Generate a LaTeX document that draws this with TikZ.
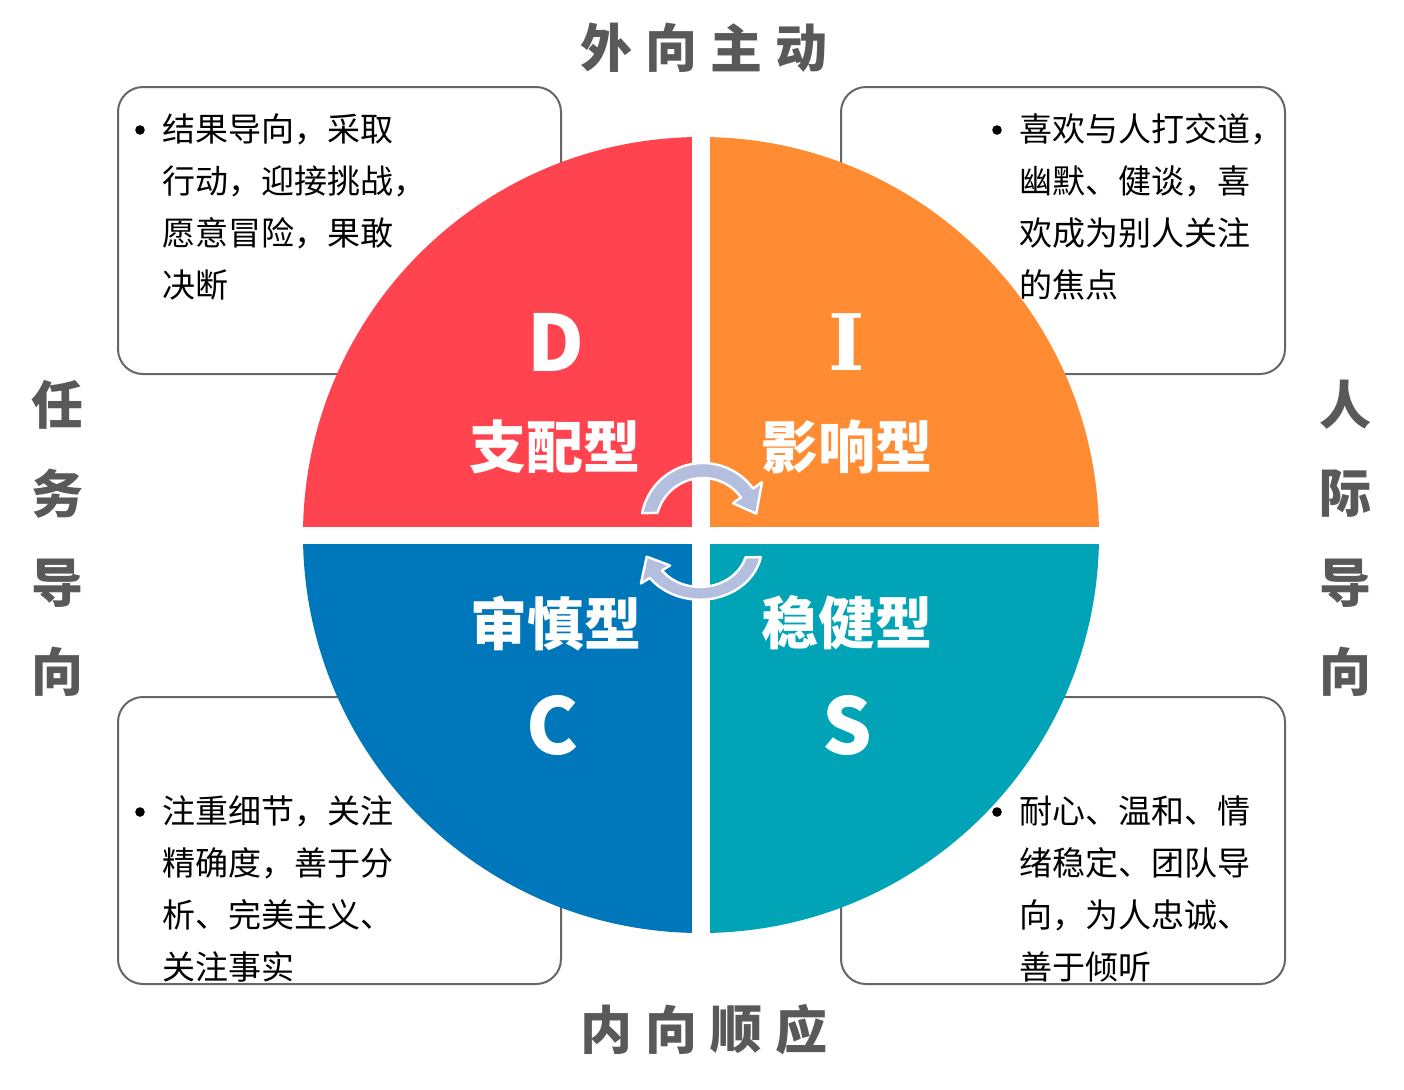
\documentclass[tikz,border=0pt]{standalone}
\usepackage{fontspec}
\setmainfont{Noto Sans CJK SC}
\newfontfamily\slabfont{DejaVu Serif}
\usetikzlibrary{positioning}

\definecolor{dred}{RGB}{255,68,79}
\definecolor{iorange}{RGB}{255,140,51}
\definecolor{cblue}{RGB}{0,119,187}
\definecolor{steal}{RGB}{0,164,182}
\definecolor{swirlcol}{RGB}{180,190,222}
\definecolor{axisgray}{RGB}{89,89,89}
\definecolor{boxgray}{RGB}{102,102,102}

\begin{document}
\begin{tikzpicture}[
    x=0.5pt, y=-0.5pt,
    infobox/.style={draw=boxgray, fill=white, line width=1pt, rounded corners=12.5pt},
    bodytext/.style={anchor=north west, inner sep=0pt, align=left, font={\fontsize{16.5pt}{26pt}\selectfont}},
    bulletdot/.style={circle, fill=black, inner sep=0pt, minimum size=4.8pt},
    bigletter/.style={text=white, inner sep=0pt, font={\bfseries\fontsize{39pt}{39pt}\selectfont}},
    typename/.style={text=white, inner sep=0pt, font={\bfseries\fontsize{28.5pt}{28.5pt}\selectfont}},
    axislabel/.style={text=axisgray, inner sep=0pt, font={\bfseries\fontsize{26pt}{26pt}\selectfont}},
    swirl/.style={draw=white, fill=swirlcol, line width=1.2pt, line join=round}
]
\useasboundingbox (0,0) rectangle (1404,1089);

% Boxes
\draw[infobox] (118,87) rectangle (561,374);
\draw[infobox] (841,87) rectangle (1285,374);
\draw[infobox] (118,697) rectangle (561,984);
\draw[infobox] (841,697) rectangle (1285,984);

% Circle
\begin{scope}
  \clip (701,535) circle [radius=398];
  \fill[dred] (701,535) rectangle (300,130);
  \fill[iorange] (701,535) rectangle (1105,130);
  \fill[cblue] (701,535) rectangle (300,940);
  \fill[steal] (701,535) rectangle (1105,940);
\end{scope}
\fill[white] (692,130) rectangle (710,940);
\fill[white] (298,527) rectangle (1105,544);

% Arrows
\begin{scope}[shift={(703,525)}]
  \draw[swirl] (-169:62) arc[start angle=-169, end angle=-36, radius=62] -- (-36:73) -- (-12:54.5)
    -- (-36:37) -- (-36:47) arc[start angle=-36, end angle=-165, radius=47] -- cycle;
\end{scope}
\begin{scope}[shift={(700,547)}, yscale=0.85, rotate=180]
  \draw[swirl] (-169:62) arc[start angle=-169, end angle=-36, radius=62] -- (-36:73) -- (-12:54.5)
    -- (-36:37) -- (-36:47) arc[start angle=-36, end angle=-165, radius=47] -- cycle;
\end{scope}

% Nodes
\node[bigletter] (dletter) at (556,342) {D};
\node[bigletter, font={\slabfont\bfseries\fontsize{39pt}{39pt}\selectfont}] (iletter) at (847,342) {I};
\node[bigletter] (cletter) at (553,725) {C};
\node[bigletter] (sletter) at (847,725) {S};
\node[typename] (dname) at (555,447) {支配型};
\node[typename] (iname) at (847,447) {影响型};
\node[typename] (cname) at (556,623) {审慎型};
\node[typename] (sname) at (847,623) {稳健型};

\node[bulletdot] (dbullet) at (140,130) {};
\node[bodytext] (dtext) at (162,113) {结果导向，采取\\行动，迎接挑战，\\愿意冒险，果敢\\决断};
\node[bulletdot] (ibullet) at (997,130) {};
\node[bodytext] (itext) at (1019,113) {喜欢与人打交道，\\幽默、健谈，喜\\欢成为别人关注\\的焦点};
\node[bulletdot] (cbullet) at (140,812) {};
\node[bodytext] (ctext) at (162,795) {注重细节，关注\\精确度，善于分\\析、完美主义、\\关注事实};
\node[bulletdot] (sbullet) at (997,812) {};
\node[bodytext] (stext) at (1019,795) {耐心、温和、情\\绪稳定、团队导\\向，为人忠诚、\\善于倾听};

% Axis labels
\foreach \ch [count=\i] in {外,向,主,动}
  \node[axislabel] (top\i) at (541+65*\i,48) {\ch};
\foreach \ch [count=\i] in {内,向,顺,应}
  \node[axislabel] (bottom\i) at (541+65*\i,1030) {\ch};
\foreach \ch [count=\i] in {任,务,导,向}
  \node[axislabel] (left\i) at (58,316+89*\i) {\ch};
\foreach \ch [count=\i] in {人,际,导,向}
  \node[axislabel] (right\i) at (1345,316+89*\i) {\ch};

\end{tikzpicture}
\end{document}
